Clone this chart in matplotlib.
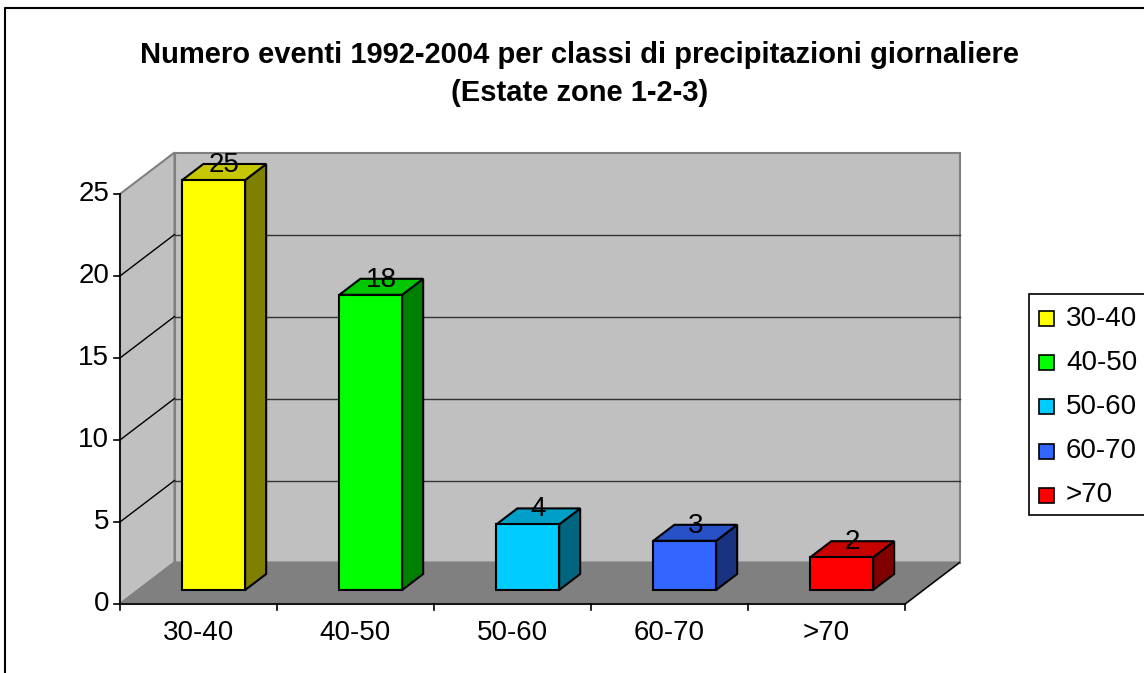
import numpy as np
import matplotlib
matplotlib.use("Agg")
import matplotlib.pyplot as plt
from matplotlib.patches import Polygon, Rectangle

plt.rcParams["font.family"] = ["Liberation Sans", "DejaVu Sans"]

# data
categories = ["30-40", "40-50", "50-60", "60-70", ">70"]
values = [25, 18, 4, 3, 2]
y_ticks = [0, 5, 10, 15, 20, 25]
title_lines = ["Numero eventi 1992-2004 per classi di precipitazioni giornaliere",
               "(Estate zone 1-2-3)"]

front_colors = ["#FFFF00", "#00FF00", "#00CCFF", "#3366FF", "#FF0000"]

# geometry in pixels (oblique projection like Excel 3D columns)
W, H = 1144, 673
X0, Y0 = 120, 604          # front-left origin
SX, SY = 157, 16.4         # px per category, px per unit
DX = 54.5 / SX             # depth shift in category units
DY = 41.5 / SY             # depth shift in value units
F0, F1 = 0.337, 0.723      # bar front/back depth fraction
BAR_C, BAR_W = 0.48, 0.40
YMAX = 25

fig = plt.figure(figsize=(W / 100, H / 100), dpi=100)
ax = fig.add_axes([0, 0, 1, 1])
ax.set_xlim(-X0 / SX, (W - X0) / SX)
ax.set_ylim((Y0 - H) / SY, Y0 / SY)
ax.axis("off")

n = len(categories)
wall = "#C0C0C0"
floor = "#808080"

# back wall, side wall, floor
ax.add_patch(Polygon([(DX, DY), (n + DX, DY), (n + DX, YMAX + DY), (DX, YMAX + DY)],
                     closed=True, facecolor=wall, edgecolor="#808080", lw=1.5, zorder=1))
ax.add_patch(Polygon([(0, 0), (DX, DY), (DX, YMAX + DY), (0, YMAX)],
                     closed=True, facecolor=wall, edgecolor="#808080", lw=1.5, zorder=1))
ax.add_patch(Polygon([(0, 0), (n, 0), (n + DX, DY), (DX, DY)],
                     closed=True, facecolor=floor, edgecolor="#808080", lw=1.5, zorder=2))
ax.plot([n, n + DX], [0, DY], color="black", lw=1, zorder=3)

# gridlines
for v in y_ticks[1:-1]:
    ax.plot([DX, n + DX], [v + DY, v + DY], color="#333333", lw=1, zorder=2)
    ax.plot([0, DX], [v, v + DY], color="black", lw=1, zorder=2)

# axes lines and ticks
ax.plot([0, 0], [0, YMAX], color="black", lw=1.2, zorder=4)
ax.plot([0, n], [0, 0], color="black", lw=1.2, zorder=4)
for v in y_ticks:
    ax.plot([-6 / SX, 0], [v, v], color="black", lw=1.2, zorder=4)
    ax.text(-11 / SX, v, str(v), ha="right", va="center", fontsize=20)
for i in range(n + 1):
    ax.plot([i, i], [0, -6 / SY], color="black", lw=1.2, zorder=4)
for i, cat in enumerate(categories):
    ax.text(i + 0.5, -29 / SY, cat, ha="center", va="center", fontsize=20)

# bars
for i, (v, col) in enumerate(zip(values, front_colors)):
    rgb = np.array(matplotlib.colors.to_rgb(col))
    top_col = rgb * 0.78
    side_col = rgb * 0.5
    x0 = i + BAR_C - BAR_W / 2 + F0 * DX
    x1 = x0 + BAR_W
    y0 = F0 * DY
    y1 = y0 + v
    ddx = (F1 - F0) * DX
    ddy = (F1 - F0) * DY
    ax.add_patch(Polygon([(x1, y0), (x1 + ddx, y0 + ddy), (x1 + ddx, y1 + ddy), (x1, y1)],
                         closed=True, facecolor=side_col, edgecolor="black", lw=1.5, zorder=5))
    ax.add_patch(Polygon([(x0, y1), (x1, y1), (x1 + ddx, y1 + ddy), (x0 + ddx, y1 + ddy)],
                         closed=True, facecolor=top_col, edgecolor="black", lw=1.5, zorder=5))
    ax.add_patch(Polygon([(x0, y0), (x1, y0), (x1, y1), (x0, y1)],
                         closed=True, facecolor=col, edgecolor="black", lw=1.5, zorder=6))
    ax.text((x0 + x1) / 2 + ddx / 2, y1 + ddy / 2, str(v), ha="center", va="baseline",
            fontsize=20, zorder=7)

# overlay in pixel coords for title, legend, frame
ov = fig.add_axes([0, 0, 1, 1])
ov.set_xlim(0, W)
ov.set_ylim(H, 0)
ov.axis("off")
ov.patch.set_alpha(0)

ov.plot([5, 5, W], [H, 8, 8], color="black", lw=1.5)

ov.text(580, 55, title_lines[0], ha="center", va="center", fontsize=21, fontweight="bold")
ov.text(580, 93, title_lines[1], ha="center", va="center", fontsize=21, fontweight="bold")

ov.add_patch(Rectangle((1029, 294), 200, 221, facecolor="white", edgecolor="black", lw=1.2))
for k, (cat, col) in enumerate(zip(categories, front_colors)):
    yc = 318.5 + 44.2 * k
    ov.add_patch(Rectangle((1039, yc - 7.5), 15, 15, facecolor=col, edgecolor="black", lw=1.2))
    ov.text(1066, yc, cat, ha="left", va="center", fontsize=20)

fig.savefig("out.png", dpi=100)
